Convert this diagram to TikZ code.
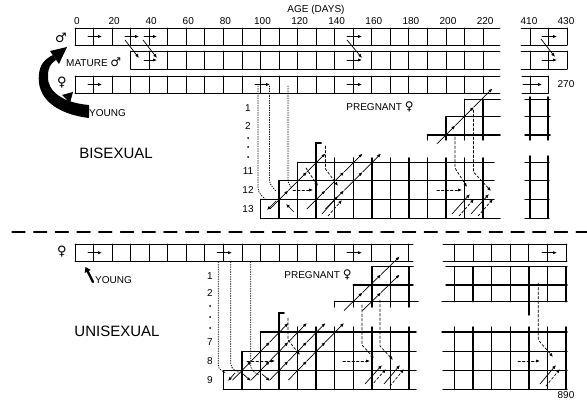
\documentclass[tikz,border=0pt]{standalone}
\usepackage{fontspec}
\setmainfont{Liberation Sans}
\newfontfamily\symfont{DejaVu Sans}
\usetikzlibrary{arrows.meta}
\newcommand{\kk}[1]{75+18.55*(#1)}
\newcommand{\chain}[5]{\foreach \i in {1,...,#3}{\draw[#5] ({\kk{#1+\i-1}+9.3},{#2-#4*(\i-1)}) -- ({\kk{#1+\i}+9.3},{#2-#4*\i});}}
\begin{document}
\begin{tikzpicture}[x=1pt,y=-1pt,line cap=round,
  tg/.style={line width=0.9pt},
  bg/.style={line width=1.5pt},
  arr/.style={line width=0.7pt,-{Latex[length=4pt,width=3.2pt]}},
  darr/.style={arr,dash pattern=on 2.5pt off 2pt},
  dotl/.style={line width=0.8pt,dash pattern=on 0.8pt off 1.6pt},
  lbl/.style={font=\fontsize{10}{10}\selectfont,inner sep=0pt},
  big/.style={font=\fontsize{15}{15}\selectfont,inner sep=0pt},
  sym/.style={font=\symfont\fontsize{13}{13}\selectfont,inner sep=0pt},
  dotn/.style={circle,fill,inner sep=0pt,minimum size=2pt}]
\useasboundingbox (0,0) rectangle (587,401);
% ---------------- labels top
\node[lbl] (agelbl) at (316,10) {AGE (DAYS)};
\foreach \a [count=\i from 0] in {0,20,...,220} \node[lbl] (age\i) at ({\kk{2*\i}+2},21.5) {\a};
\node[lbl] (a410) at (529,21.5) {410};
\node[lbl] (a430) at (566,21.5) {430};
% ---------------- top rows
\draw[tg] (75,28) -- (500,28) (75,45) -- (500,45);
\foreach \k in {0,...,22} \draw[tg] ({\kk{\k}},28) -- ({\kk{\k}},45);
\draw[tg] ({\kk{3}},51) -- (500,51) ({\kk{3}},69) -- (500,69);
\foreach \k in {3,...,22} \draw[tg] ({\kk{\k}},51) -- ({\kk{\k}},69);
\draw[tg] (75,76) -- (500,76) (75,93) -- (500,93);
\foreach \k in {0,...,22} \draw[tg] ({\kk{\k}},76) -- ({\kk{\k}},93);
% right part of top rows
\draw[tg] (521,28) -- (567,28) (521,45) -- (567,45) (530,28) -- (530,45) (548.5,28) -- (548.5,45) (567,28) -- (567,45);
\draw[tg] (521,51) -- (567,51) (521,69) -- (567,69) (530,51) -- (530,69) (548.5,51) -- (548.5,69) (567,51) -- (567,69);
\draw[tg] (522,76) -- (548.5,76) (522,93) -- (548.5,93) (530,76) -- (530,93) (548.5,76) -- (548.5,93);
% arrows in top rows
\foreach \y in {36.5} {\draw[arr] (88,\y) -- (102,\y); \draw[arr] (125,\y) -- (139,\y); \draw[arr] (144,\y) -- (157,\y); \draw[arr] (347,\y) -- (362,\y); \draw[arr] (542,\y) -- (557,\y);}
\foreach \y in {60} {\draw[arr] (144,\y) -- (157,\y); \draw[arr] (347,\y) -- (362,\y); \draw[arr] (542,\y) -- (557,\y);}
\foreach \y in {84.5} {\draw[arr] (88,\y) -- (102,\y); \draw[arr] (255,\y) -- (270,\y); \draw[arr] (347,\y) -- (362,\y); \draw[arr] (523,\y) -- (542,\y);}
\draw[arr] (125,40) -- (139,58); \draw[arr] (143,40) -- (157,58); \draw[arr] (347,40) -- (362,58); \draw[arr] (541,39) -- (555,57);
% symbols and left labels
\node[sym] (male) at (61,38) {♂};
\node[sym] (fem) at (62,83) {♀};
\node[lbl,anchor=west] (mature) at (66,62) {MATURE {\symfont\fontsize{12}{12}\selectfont ♂}};
\node[lbl,anchor=west] (young) at (89,113) {YOUNG};
\fill (89,118) .. controls (56,114) and (36,98) .. (39,74) .. controls (40,64) and (45,59) .. (53,55)
  -- (56,60) .. controls (50,64) and (48,68) .. (48,76) .. controls (47,92) and (64,103) .. (89,105) -- cycle;
\fill (67,47) -- (50,51) -- (59,64) -- cycle;
\fill (73,92) -- (62,95) -- (70,103) -- cycle;
\node[big] (bisex) at (116,153) {BISEXUAL};
\node[lbl] (r1) at (248,108) {1};
\node[lbl] (r2) at (248,126) {2};
\node[dotn] (rd1) at (248,138) {};
\node[dotn] (rd2) at (248,147) {};
\node[dotn] (rd3) at (248,157) {};
\node[lbl] (r11) at (248,171) {11};
\node[lbl] (r12) at (248,190) {12};
\node[lbl] (r13) at (248,209) {13};
\node[lbl] (preg1) at (380,107) {PREGNANT {\symfont\fontsize{12}{12}\selectfont ♀}};
\node[lbl] (n270) at (566,84) {270};
% ---------------- bisexual upper staircase
\draw[bg] ({\kk{21}},99.3) -- (500,99.3) ({\kk{20}},116.7) -- (500,116.7) ({\kk{19}},135) -- (500,135);
\draw[bg] ({\kk{19}},135) -- ({\kk{19}},140) ({\kk{20}},116.7) -- ({\kk{20}},140) ({\kk{21}},99.3) -- ({\kk{21}},140) ({\kk{22}},99.3) -- ({\kk{22}},140);
\draw[bg] (525,99.3) -- (550,99.3) (525,116.7) -- (550,116.7) (525,135) -- (550,135) (530,97) -- (530,140) (548,97) -- (548,140);
\chain{19}{144}{3}{18.5}{arr}
% ---------------- bisexual lower grid
\draw[bg] ({\kk{10}},218.3) -- (500,218.3) ({\kk{10}},199.3) -- (494,199.3) ({\kk{11}},180.7) -- (494,180.7) ({\kk{12}},162.7) -- (494,162.7);
\draw[bg] ({\kk{10}},199.3) -- ({\kk{10}},218.3) ({\kk{11}},180.7) -- ({\kk{11}},218.3) ({\kk{12}},162.7) -- ({\kk{12}},218.3);
\draw[bg] ({\kk{13}+5},143) -- ({\kk{13}},143) -- ({\kk{13}},218.3);
\foreach \k in {14,...,22} \draw[bg] ({\kk{\k}},158) -- ({\kk{\k}},218.3);
\draw[bg] (525,162.7) -- (549,162.7) (525,180.7) -- (549,180.7) (525,199.3) -- (549,199.3) (525,218.3) -- (549,218.3) (530,156) -- (530,218.3) (548,156) -- (548,218.3);
% dotted lines from female row
\draw[dotl] (258,86) -- (258,184) .. controls (258,192) .. (265,199);
\draw[dotl] (269.5,86) -- (269.5,176) .. controls (269.5,184) .. (276,191);
\draw[dotl] (288,86) -- (288,176) .. controls (288,183) .. (292,188);
% bisexual lower arrows
\chain{10}{209}{3}{18.5}{arr}
\chain{12}{209}{3}{18.5}{arr}
\chain{13}{209}{3}{18.5}{arr}
\draw[arr] (276,201) -- (267,210);
\draw[arr] (294,212) -- (286,204);
\draw[darr] (293,190) -- (313,190);
\draw[darr] (325.5,146) -- (325.5,169) -- (338,186);
\draw[darr] (306,168) -- (318,186);
\draw[darr] (437,190) -- (462,190);
\draw[darr] (455,137) -- (455,168) -- (467,187);
\draw[darr] (473.5,110) -- (473.5,172) -- (491,191);
\draw[arr] (452,214) -- (470,194); \draw[darr] (459,216) -- (474,199);
\draw[arr] (471,214) -- (489,194); \draw[darr] (478,216) -- (493,199);
\draw[arr] (322,214) -- (338,196); \draw[darr] (328,216) -- (342,200);
% ---------------- separator
\draw[line width=1.3pt,dash pattern=on 13pt off 8.7pt] (12,232) -- (587,232);
% ---------------- unisexual female row
\node[sym] (fem2) at (62,252) {♀};
\draw[tg] (75,244) -- (413,244) (75,261.5) -- (413,261.5);
\foreach \k in {0,...,18} \draw[tg] ({\kk{\k}},244) -- ({\kk{\k}},261.5);
\draw[tg] (443,244) -- (567,244) (443,261.5) -- (567,261.5);
\foreach \j in {0,...,6} \draw[tg] ({454.5+18.6*\j},244) -- ({454.5+18.6*\j},261.5);
\foreach \y in {252.7} {\draw[arr] (88,\y) -- (102,\y); \draw[arr] (217,\y) -- (232,\y); \draw[arr] (347,\y) -- (362,\y); \draw[arr] (542,\y) -- (557,\y);}
\draw[line width=2.3pt,-{Triangle[length=5pt,width=6.5pt]}] (93,282) -- (85.5,267);
\node[lbl,anchor=west] (young2) at (95,280) {YOUNG};
\node[big] (unisex) at (117,331) {UNISEXUAL};
\node[lbl] (u1) at (210,276) {1};
\node[lbl] (u2) at (210,293) {2};
\node[dotn] (ud1) at (210,306) {};
\node[dotn] (ud2) at (210,317) {};
\node[dotn] (ud3) at (210,328) {};
\node[lbl] (u7) at (210,342) {7};
\node[lbl] (u8) at (210,361) {8};
\node[lbl] (u9) at (210,380) {9};
\node[lbl] (preg2) at (318,275) {PREGNANT {\symfont\fontsize{12}{12}\selectfont ♀}};
\node[lbl] (n890) at (566,395) {890};
% unisexual upper staircase
\draw[bg] ({\kk{16}},266.7) -- (413,266.7) ({\kk{15}},285) -- (413,285) ({\kk{14}},301.7) -- (418,301.7);
\draw[bg] ({\kk{14}},301.7) -- ({\kk{14}},307) ({\kk{15}},285) -- ({\kk{15}},307) ({\kk{16}},266.7) -- ({\kk{16}},307) ({\kk{17}},266.7) -- ({\kk{17}},307) ({\kk{18}},266.7) -- ({\kk{18}},307);
\draw[bg] (446,266.7) -- (567,266.7) (446,285) -- (567,285) (442,301.7) -- (567,301.7);
\foreach \j in {0,...,6} \draw[bg] ({454.5+18.6*\j},266.7) -- ({454.5+18.6*\j},301.7);
\draw[bg] ({454.5+18.6*4},301.7) -- ({454.5+18.6*4},315);
\chain{14}{310.5}{3}{18}{arr}
\chain{15}{310.5}{2}{18}{arr}
% unisexual lower grid
\draw[bg] ({\kk{8}},389.5) -- (416,389.5) ({\kk{8}},370.5) -- (416,370.5) ({\kk{9}},351.5) -- (416,351.5) ({\kk{10}},332) -- (416,332);
\draw[bg] ({\kk{8}},370.5) -- ({\kk{8}},389.5) ({\kk{9}},351.5) -- ({\kk{9}},389.5) ({\kk{10}},332) -- ({\kk{10}},389.5);
\draw[bg] ({\kk{11}+5},313) -- ({\kk{11}},313) -- ({\kk{11}},389.5);
\foreach \k in {12,...,18} \draw[bg] ({\kk{\k}},327) -- ({\kk{\k}},389.5);
\draw[bg] (442,332) -- (567,332) (443,351.5) -- (567,351.5) (443,370.5) -- (567,370.5) (443,389.5) -- (567,389.5);
\foreach \j in {0,...,6} \draw[bg] ({454.5+18.6*\j},327) -- ({454.5+18.6*\j},389.5);
% dotted lines
\draw[dotl] (218.3,262) -- (218.3,362) .. controls (218.3,369) .. (226,373);
\draw[dotl] (230.7,262) -- (230.7,358) .. controls (230.7,368) .. (240,373);
\draw[dotl] (250.7,262) -- (250.7,362) .. controls (250.7,370) .. (259,375);
\draw[arr] (235,373) -- (228,381);
\draw[arr] (243,374) -- (251,381);
\draw[arr] (262,374) -- (270,381);
% unisexual lower arrows
\chain{8}{380}{3}{19}{arr}
\chain{9}{380}{3}{19}{arr}
\chain{10}{380}{3}{19}{arr}
\chain{11}{380}{3}{19}{arr}
\draw[darr] (247,361) -- (275,361);
\draw[darr] (343,361) -- (370,361);
\draw[darr] (518,361) -- (540,361);
\draw[darr] (288,318) -- (288,340) -- (300,355);
\draw[darr] (362,305) -- (362,345) -- (374,358);
\draw[darr] (380,300) -- (380,346) -- (393,360);
\draw[darr] (538.3,283) -- (538.3,340) -- (553,357);
\draw[arr] (365,384) -- (382,365); \draw[darr] (371,386) -- (386,369);
\draw[arr] (384,384) -- (400,365); \draw[darr] (390,386) -- (404,369);
\draw[arr] (540,384) -- (556,365); \draw[darr] (546,386) -- (560,369);
\end{tikzpicture}
\end{document}
